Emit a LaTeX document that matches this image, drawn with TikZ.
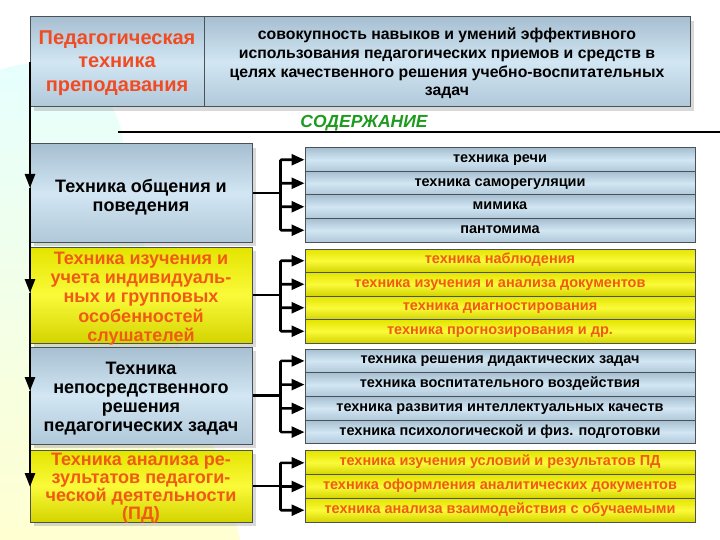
\documentclass[tikz,border=0pt]{standalone}
\usepackage{fontspec}
\setmainfont{Liberation Sans}
\usetikzlibrary{arrows.meta,shadows}
\definecolor{titlered}{HTML}{F04B23}
\definecolor{orangetxt}{HTML}{F05A14}
\definecolor{greentxt}{HTML}{1E9A1E}
\definecolor{bluetop}{HTML}{A6BFD1}
\definecolor{bluemid}{HTML}{D2E6F3}
\definecolor{bluebot}{HTML}{B0C8D9}
\definecolor{yeltop}{HTML}{E4E400}
\definecolor{yelmid}{HTML}{FAFA3A}
\definecolor{yelbot}{HTML}{D4D400}
\definecolor{edgegray}{HTML}{4A5258}
\tikzset{
  boxshadow/.style={drop shadow={opacity=0.3,shadow xshift=4pt,shadow yshift=-4pt}},
  bluebox/.style={draw=edgegray,line width=1pt,top color=bluetop,bottom color=bluebot,middle color=bluemid,
    align=center,text=black,inner sep=1pt},
  yelbox/.style={draw=edgegray,line width=1pt,top color=yeltop,bottom color=yelbot,middle color=yelmid,
    align=center,text=orangetxt,inner sep=1pt},
  leftbox/.style={minimum width=222pt,boxshadow},
  lefttext/.style={align=center,inner sep=0pt,font=\fontsize{18}{19}\selectfont\bfseries},
  itembox/.style={minimum width=390pt,align=none,text height=9.5pt,text depth=3.5pt,
    font=\fontsize{14.5}{16}\selectfont\bfseries},
  mainline/.style={line width=2.6pt,black},
  downarr/.style={mainline,-{Triangle[length=14pt,width=10pt]}},
  branch/.style={line width=2.6pt,black,-{Triangle[length=13pt,width=11pt]},rounded corners=1pt},
}
\begin{document}
\begin{tikzpicture}[x=1pt,y=-1pt]
\useasboundingbox (0,0) rectangle (720,540);
% background swoosh
\shade[top color=cyan!10,bottom color=yellow!18,draw=none]
  (0,70) .. controls (50,52) and (105,70) .. (122,132) -- (128,200)
  .. controls (190,380) and (225,470) .. (240,540) -- (0,540) -- cycle;

% top box
\node[bluebox,boxshadow,minimum width=660pt,minimum height=90pt] (top) at (360,62) {};
\node[font=\fontsize{20}{23.5}\selectfont\bfseries,text=titlered,align=center] (toptitle) at (117,63)
  {Педагогическая\\техника\\преподавания};
\node[font=\fontsize{15.8}{18.6}\selectfont\bfseries,align=center] (topdef) at (447,63.5)
  {совокупность навыков и умений эффективного\\использования педагогических приемов и средств в\\целях качественного решения учебно-воспитательных\\задач};
\coordinate (divT) at (204,17);
\coordinate (divB) at (204,107);
\draw[edgegray,line width=1pt] (divT) -- (divB);

% heading
\node[font=\fontsize{17.5}{20}\selectfont\bfseries\itshape,text=greentxt] (head) at (364,123) {СОДЕРЖАНИЕ};
\coordinate (hl1) at (118,132);
\coordinate (hl2) at (720,132);
\draw[line width=1.3pt] (hl1) -- (hl2);

% left boxes
\node[bluebox,leftbox,minimum height=98pt,
  label={[lefttext,text=black,yshift=-4pt]center:{Техника общения и\\поведения}}] (b1) at (141,193) {};
\node[yelbox,leftbox,minimum height=96pt,
  label={[lefttext,text=orangetxt,yshift=-3.5pt,font=\fontsize{18}{19.3}\selectfont\bfseries]center:{Техника изучения и\\учета индивидуаль-\\ных и групповых\\особенностей\\слушателей}}] (b2) at (141,295) {};
\node[bluebox,leftbox,minimum height=97pt,
  label={[lefttext,text=black,yshift=-3pt]center:{Техника\\непосредственного\\решения\\педагогических задач}}] (b3) at (141,395.5) {};
\node[yelbox,leftbox,minimum height=72pt,
  label={[lefttext,text=orangetxt,yshift=-2.5pt,font=\fontsize{18}{18}\selectfont\bfseries]center:{Техника анализа ре-\\зультатов педагоги-\\ческой деятельности\\(ПД)}}] (b4) at (141,486) {};

% vertical spine
\coordinate (s0) at (30,62);
\coordinate (s1) at (30,188);
\coordinate (s2) at (30,293);
\coordinate (s3) at (30,391);
\coordinate (s4) at (30,487);
\draw[downarr] (s0) -- (s1);
\draw[downarr] (s1) -- (s2);
\draw[downarr] (s2) -- (s3);
\draw[downarr] (s3) -- (s4);

% items group 1
\node[bluebox,itembox,minimum height=23.5pt] (i11) at (500,159.75) {техника речи};
\node[bluebox,itembox,minimum height=23.5pt] (i12) at (500,183.25) {техника саморегуляции};
\node[bluebox,itembox,minimum height=23.5pt] (i13) at (500,206.75) {мимика};
\node[bluebox,itembox,minimum height=23.5pt] (i14) at (500,230.25) {пантомима};
% group 2
\node[yelbox,itembox,minimum height=23.5pt] (i21) at (500,260.75) {техника наблюдения};
\node[yelbox,itembox,minimum height=23.5pt] (i22) at (500,284.25) {техника изучения и анализа документов};
\node[yelbox,itembox,minimum height=23.5pt] (i23) at (500,307.75) {техника диагностирования};
\node[yelbox,itembox,minimum height=23.5pt] (i24) at (500,331.25) {техника прогнозирования и др.};
% group 3
\node[bluebox,itembox,minimum height=23.75pt] (i31) at (500,360.9) {техника решения дидактических задач};
\node[bluebox,itembox,minimum height=23.75pt] (i32) at (500,384.6) {техника воспитательного воздействия};
\node[bluebox,itembox,minimum height=23.75pt] (i33) at (500,408.4) {техника развития интеллектуальных качеств};
\node[bluebox,itembox,minimum height=23.75pt] (i34) at (500,432.1) {техника психологической и физ. подготовки};
% group 4
\node[yelbox,itembox,minimum height=23.67pt] (i41) at (500,462.8) {техника изучения условий и результатов ПД};
\node[yelbox,itembox,minimum height=23.67pt] (i42) at (500,486.5) {техника оформления аналитических документов};
\node[yelbox,itembox,minimum height=23.67pt] (i43) at (500,510.2) {техника анализа взаимодействия с обучаемыми};

% connectors
\foreach \b/\list in {b1/{i11,i12,i13,i14},b2/{i21,i22,i23,i24},b3/{i31,i32,i33,i34},b4/{i41,i42,i43}}{
  \draw[line width=2.6pt] (\b.east) -- ++(28,0) coordinate (j\b);
  \foreach \i in \list {
    \draw[branch] (j\b) |- (\i.west);
  }
}
\end{tikzpicture}
\end{document}
